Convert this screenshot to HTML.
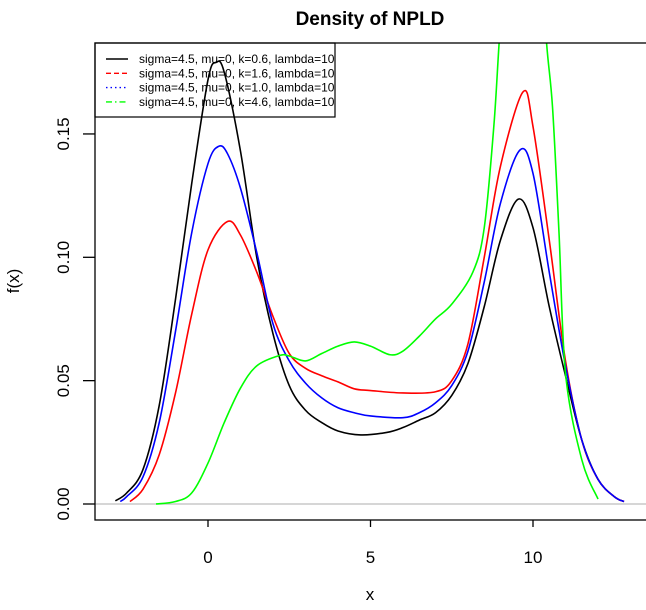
<!DOCTYPE html>
<html><head><meta charset="utf-8"><style>
body{margin:0;background:#fff}
text{font-family:"Liberation Sans",Arial,sans-serif}
</style></head><body>
<svg id="chart" width="646" height="605" xmlns="http://www.w3.org/2000/svg">
<defs><clipPath id="clip"><rect x="95" y="43" width="551" height="477"/></clipPath></defs>
<text x="370" y="25" text-anchor="middle" font-size="19" font-weight="bold">Density of NPLD</text>
<g id="axes"></g>
<g id="legend"></g>
<g id="series" clip-path="url(#clip)"></g>
<rect x="95" y="43" width="560" height="477" fill="none" stroke="#000" stroke-width="1.3"/>
<text x="370" y="600" text-anchor="middle" font-size="17">x</text>
<text transform="translate(19,281) rotate(-90)" text-anchor="middle" font-size="17">f(x)</text>
</svg>
<script>
const xTicks=[0,5,10];
const yTicks=[0,0.05,0.10,0.15];
const yTickLabels=["0.00","0.05","0.10","0.15"];
const seriesNames=["sigma=4.5, mu=0, k=0.6, lambda=10","sigma=4.5, mu=0, k=1.6, lambda=10","sigma=4.5, mu=0, k=1.0, lambda=10","sigma=4.5, mu=0, k=4.6, lambda=10"];
const blackX=[-2.85,-2.5,-2,-1.5,-1,-0.5,0,0.25,0.5,1,1.5,2,2.5,3,3.5,4,4.7,5.5,6,6.5,7,7.5,8,8.5,9,9.55,10,10.5,11,11.5,12,12.5,12.8];
const blackY=[.0013,.0045,.014,.04,.083,.130,.172,.179,.175,.143,.100,.069,.048,.038,.033,.0296,.028,.029,.031,.034,.037,.044,.057,.080,.107,.1236,.112,.080,.052,.026,.010,.003,.001];
const redX=[-2.4,-2,-1.5,-1,-0.5,0,0.6,1,1.5,2,2.5,3,3.5,4,4.5,5,6,7,7.5,8,8.5,9,9.69,10,10.5,11,11.5,12,12.5,12.8];
const redY=[.001,.006,.02,.045,.077,.103,.1145,.109,.094,.076,.061,.055,.052,.0495,.0467,.046,.045,.0455,.050,.065,.100,.137,.167,.153,.107,.058,.026,.010,.003,.001];
const blueX=[-2.7,-2.5,-2,-1.5,-1,-0.5,0,0.33,0.6,1,1.5,2,2.5,3,3.5,4,4.5,5,6,6.5,7,7.5,8,8.5,9,9.6,10,10.5,11,11.5,12,12.5,12.8];
const blueY=[.001,.003,.011,.033,.07,.11,.138,.145,.142,.128,.102,.073,.058,.049,.043,.039,.037,.0357,.035,.037,.041,.048,.062,.090,.122,.1435,.134,.094,.056,.026,.010,.003,.001];
const greenX=[-1.6,-1,-0.5,0,0.5,1,1.5,2.2,2.5,3,3.5,4,4.5,5,5.6,6,6.5,7,7.5,8.15,8.5,8.8,9,9.3,9.8,10.2,10.4,10.6,10.8,11,11.5,12];
const greenY=[0,.001,.0045,.0166,.033,.047,.056,.0602,.060,.058,.061,.064,.0657,.064,.0605,.062,.068,.075,.081,.094,.112,.154,.195,.24,.27,.24,.19,.161,.11,.053,.018,.002];
const sx=v=>208+v*32.5;
const sy=v=>504-v*2467;
const NS="http://www.w3.org/2000/svg";
function mk(tag,attrs,parent){const e=document.createElementNS(NS,tag);for(const k in attrs)e.setAttribute(k,attrs[k]);parent.appendChild(e);return e;}
const axes=document.getElementById('axes');
xTicks.forEach((t,i)=>{
 const l=mk('line',{x1:sx(t),x2:sx(t),y1:520,y2:527,stroke:'#000','stroke-width':1.3},axes);
 
 
 const tx=mk('text',{x:sx(t),y:563,'text-anchor':'middle','font-size':17},axes);
 tx.textContent=String(t);
 
 
});
yTicks.forEach((t,i)=>{
 const l=mk('line',{x1:83,x2:95,y1:sy(t),y2:sy(t),stroke:'#000','stroke-width':1.3},axes);
 
 
 const tx=mk('text',{transform:`translate(69,${sy(t)}) rotate(-90)`,'text-anchor':'middle','font-size':17},axes);
 tx.textContent=yTickLabels[i];
 
 
});
const lg=document.getElementById('legend');
const lb=mk('rect',{x:95,y:43,width:240,height:74,fill:'#fff',stroke:'#000','stroke-width':1.2},lg);


const dashes=['none','5,3','1.5,3','6,3,1.5,3'];
const cols=['#000','#ff0000','#0000ff','#00ff00'];
seriesNames.forEach((n,i)=>{
 const y=59+i*14.3;
 const l=mk('line',{x1:106,x2:128,y1:y,y2:y,stroke:cols[i],'stroke-width':1.4,'stroke-dasharray':dashes[i]},lg);
 
 
 const t=mk('text',{x:139,y:y+4,'font-size':12},lg);
 t.textContent=n;
 
 
});
const ser=document.getElementById('series');
const zl=mk('line',{x1:95,x2:646,y1:sy(0),y2:sy(0),stroke:'#bebebe','stroke-width':1.3},ser);


function pathD(xs,ys){
 const p=xs.map((x,i)=>[sx(x),sy(ys[i])]);
 let d=`M${p[0][0]},${p[0][1]}`;
 for(let i=0;i<p.length-1;i++){
  const p0=p[i-1]||p[i],p1=p[i],p2=p[i+1],p3=p[i+2]||p2;
  const c1=[p1[0]+(p2[0]-p0[0])/6,p1[1]+(p2[1]-p0[1])/6];
  const c2=[p2[0]-(p3[0]-p1[0])/6,p2[1]-(p3[1]-p1[1])/6];
  d+=`C${c1[0]},${c1[1]} ${c2[0]},${c2[1]} ${p2[0]},${p2[1]}`;
 }
 return d;
}
const defs=[[blackX,blackY,'#000','series-k0.6'],[redX,redY,'#ff0000','series-k1.6'],[blueX,blueY,'#0000ff','series-k1.0'],[greenX,greenY,'#00ff00','series-k4.6']];
defs.forEach(s=>{
 const p=mk('path',{d:pathD(s[0],s[1]),fill:'none',stroke:s[2],'stroke-width':1.6},ser);
 
 
});
</script>
</body></html>
